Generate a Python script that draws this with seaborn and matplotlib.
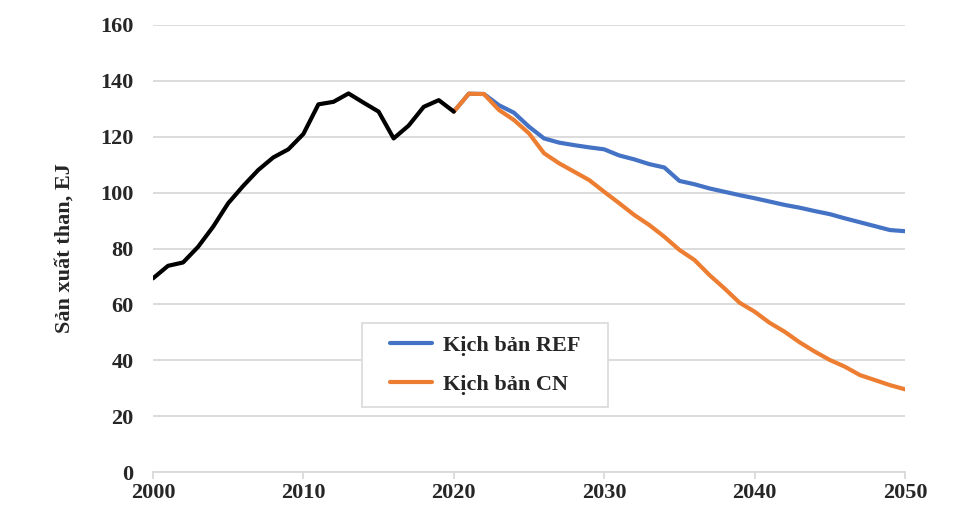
import matplotlib
matplotlib.use("Agg")
import matplotlib.pyplot as plt
from matplotlib.patches import Rectangle
import seaborn as sns
import pandas as pd
import numpy as np

hist_years = list(range(2000, 2021))
hist_values = [69.3, 73.8, 75.0, 80.6, 87.8, 96.2, 102.4, 108.1, 112.6, 115.5,
               121.0, 131.6, 132.5, 135.5, 132.2, 129.0, 119.4, 124.0, 130.7, 133.1, 129.0]

scen_years = list(range(2020, 2051))
ref_values = [129.0, 135.4, 135.3, 131.3, 128.6, 123.6, 119.4, 117.9, 117.0, 116.2,
              115.5, 113.3, 111.9, 110.2, 109.0, 104.2, 103.0, 101.5, 100.3, 99.1,
              98.0, 96.8, 95.6, 94.6, 93.4, 92.3, 90.8, 89.4, 88.0, 86.6, 86.2]
cn_values = [129.0, 135.4, 135.3, 129.6, 126.0, 121.2, 114.1, 110.5, 107.5, 104.5,
             100.3, 96.2, 92.0, 88.4, 84.2, 79.5, 75.9, 70.5, 65.7, 60.6,
             57.4, 53.4, 50.2, 46.4, 43.1, 40.1, 37.7, 34.7, 32.9, 31.1, 29.6]

ref_label = "Kịch bản REF"
cn_label = "Kịch bản CN"
y_label = "Sản xuất than, EJ"
x_ticks = [2000, 2010, 2020, 2030, 2040, 2050]
y_ticks = [0, 20, 40, 60, 80, 100, 120, 140, 160]

sns.set_style("white")
plt.rcParams['font.family'] = ['Liberation Serif', 'DejaVu Serif']
plt.rcParams['font.weight'] = 'bold'

hist_df = pd.DataFrame({"year": hist_years, "value": hist_values})
scen_df = pd.DataFrame({
    "year": scen_years * 2,
    "value": ref_values + cn_values,
    "scenario": [ref_label] * len(scen_years) + [cn_label] * len(scen_years),
})

fig = plt.figure(figsize=(9.7, 5.23), dpi=100)
ax = fig.add_axes([0.1577, 0.0975, 0.7753, 0.8547])

ax.grid(axis='y', color='#d9d9d9', linewidth=1.3, zorder=0)
ax.set_axisbelow(True)

sns.lineplot(data=scen_df, x="year", y="value", hue="scenario",
             palette={ref_label: "#4472C4", cn_label: "#ED7D31"},
             hue_order=[ref_label, cn_label], linewidth=3.0, ax=ax)
sns.lineplot(data=hist_df, x="year", y="value", color="black", linewidth=3.0,
             ax=ax, legend=False)

ax.set_xlim(2000, 2050)
ax.set_ylim(0, 160)
ax.set_xticks(x_ticks)
ax.set_yticks(y_ticks)
ax.set_xticklabels([str(t) for t in x_ticks], fontsize=16, fontweight='bold')
ax.set_yticklabels([str(t) for t in y_ticks], fontsize=16, fontweight='bold')
ax.set_xlabel("")
ax.set_ylabel(y_label, fontsize=16, fontweight='bold')
ax.yaxis.set_label_coords(-0.104, 0.5)

for s in ['top', 'right', 'left']:
    ax.spines[s].set_visible(False)
ax.spines['bottom'].set_color('#d9d9d9')
ax.spines['bottom'].set_linewidth(1.3)
ax.tick_params(axis='x', which='major', direction='out', length=5, width=1.3,
               color='#d9d9d9', bottom=True, pad=3)
ax.tick_params(axis='y', length=0, pad=14)

# legend box
box = Rectangle((0.278, 0.1454), 0.605 - 0.278, 0.3333 - 0.1454,
                transform=ax.transAxes, facecolor='white', edgecolor='#d9d9d9',
                linewidth=1.2, zorder=4)
ax.add_patch(box)

leg = ax.legend(loc='center left', bbox_to_anchor=(0.315, 0.2394),
                frameon=False,
                prop={'family': 'Liberation Serif', 'weight': 'bold', 'size': 16},
                handlelength=1.9, handletextpad=0.5, borderpad=0,
                borderaxespad=0, labelspacing=0.85)
leg.set_zorder(5)
for h in leg.get_lines():
    h.set_linewidth(3.0)

fig.savefig("out.png", dpi=100, facecolor='white')
